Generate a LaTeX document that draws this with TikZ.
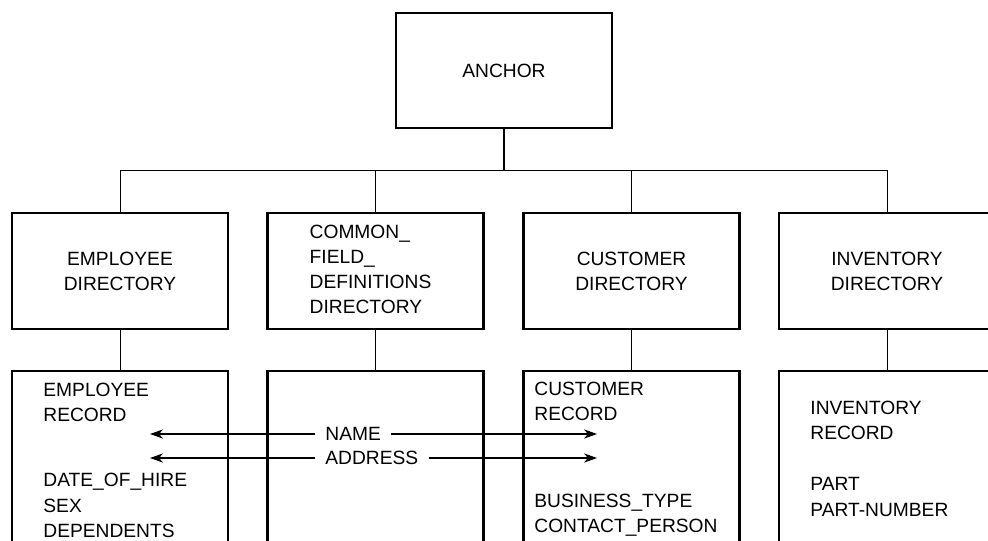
\documentclass[tikz,border=0pt]{standalone}
\usepackage{fontspec}
\setmainfont{Liberation Sans}
\usetikzlibrary{arrows.meta}

\tikzset{
  box/.style={draw, line width=1.3pt, minimum width=108pt, minimum height=58pt, inner sep=0pt},
  recbox/.style={draw, line width=1.3pt, minimum width=108pt, minimum height=110pt, inner sep=0pt},
  link/.style={line width=0.5pt},
  trunk/.style={line width=1.1pt},
  txt/.style={anchor=base west, inner sep=0pt},
  lbl/.style={anchor=west, inner xsep=5pt, inner ysep=0pt},
  fieldarrow/.style={line width=0.6pt, -{Stealth[length=6.5pt, width=4.6pt, inset=2pt]}}
}

\begin{document}
\begin{tikzpicture}[x=0.5pt, y=-0.5pt, font=\fontsize{9.6}{12.5}\selectfont]
		%%%%% START %%%%%
		\clip (0, 0) rectangle (988, 540);

		\node[box, minimum height=57.5pt] (anc) at (504, 70.5) {ANCHOR};

		\node[box, align=center] (empDir) at (120, 271) {EMPLOYEE\\DIRECTORY};
		\node[box, align=left] (cfdDir) at (375.5, 271) {\hspace*{-5pt}\begin{tabular}{@{}l@{}}COMMON\_\\FIELD\_\\DEFINITIONS\\DIRECTORY\end{tabular}};
		\node[box, align=center] (cusDir) at (631.5, 271) {CUSTOMER\\DIRECTORY};
		\node[box, align=center] (invDir) at (887, 271) {INVENTORY\\DIRECTORY};

		\node[recbox] (empRec) at (120, 481) {};
		\node[recbox] (cfdRec) at (375.5, 481) {};
		\node[recbox] (cusRec) at (631.5, 481) {};
		\node[recbox] (invRec) at (887, 481) {};

		% tree
		\coordinate (bus) at (504, 170);
		\draw[trunk] (anc.south) -- (bus);
		\draw[link] (empDir.north) |- (bus);
		\draw[link] (cfdDir.north) |- (bus);
		\draw[link] (cusDir.north) |- (bus);
		\draw[link] (invDir.north) |- (bus);

		\draw[link] (empDir.south) -- (empRec.north);
		\draw[link] (cfdDir.south) -- (cfdRec.north);
		\draw[link] (cusDir.south) -- (cusRec.north);
		\draw[link] (invDir.south) -- (invRec.north);

		% record contents
		\node[txt] (e1) at (43, 396) {EMPLOYEE};
		\node[txt] (e2) at (43, 421) {RECORD};
		\node[txt] (e3) at (43, 486) {DATE\_OF\_HIRE};
		\node[txt] (e4) at (43, 512) {SEX};
		\node[txt] (e5) at (43, 537) {DEPENDENTS};

		\node[txt] (c1) at (534, 395) {CUSTOMER};
		\node[txt] (c2) at (534, 420) {RECORD};
		\node[txt] (c3) at (534, 507) {BUSINESS\_TYPE};
		\node[txt] (c4) at (534, 532) {CONTACT\_PERSON};

		\node[txt] (i1) at (810, 414) {INVENTORY};
		\node[txt] (i2) at (810, 439) {RECORD};
		\node[txt] (i3) at (810, 490) {PART};
		\node[txt] (i4) at (810, 516) {PART-NUMBER};

		% shared fields
		\node[lbl] (nm) at (315, 434) {NAME};
		\node[lbl] (adr) at (315, 458) {ADDRESS};
		\coordinate (nmL) at (150, 434);
		\coordinate (nmR) at (597, 434);
		\coordinate (adrL) at (150, 458);
		\coordinate (adrR) at (597, 458);
		\draw[fieldarrow] (nm.west) -- (nmL);
		\draw[fieldarrow] (nm.east) -- (nmR);
		\draw[fieldarrow] (adr.west) -- (adrL);
		\draw[fieldarrow] (adr.east) -- (adrR);
		%%%%% END %%%%%
	\end{tikzpicture}
\end{document}
